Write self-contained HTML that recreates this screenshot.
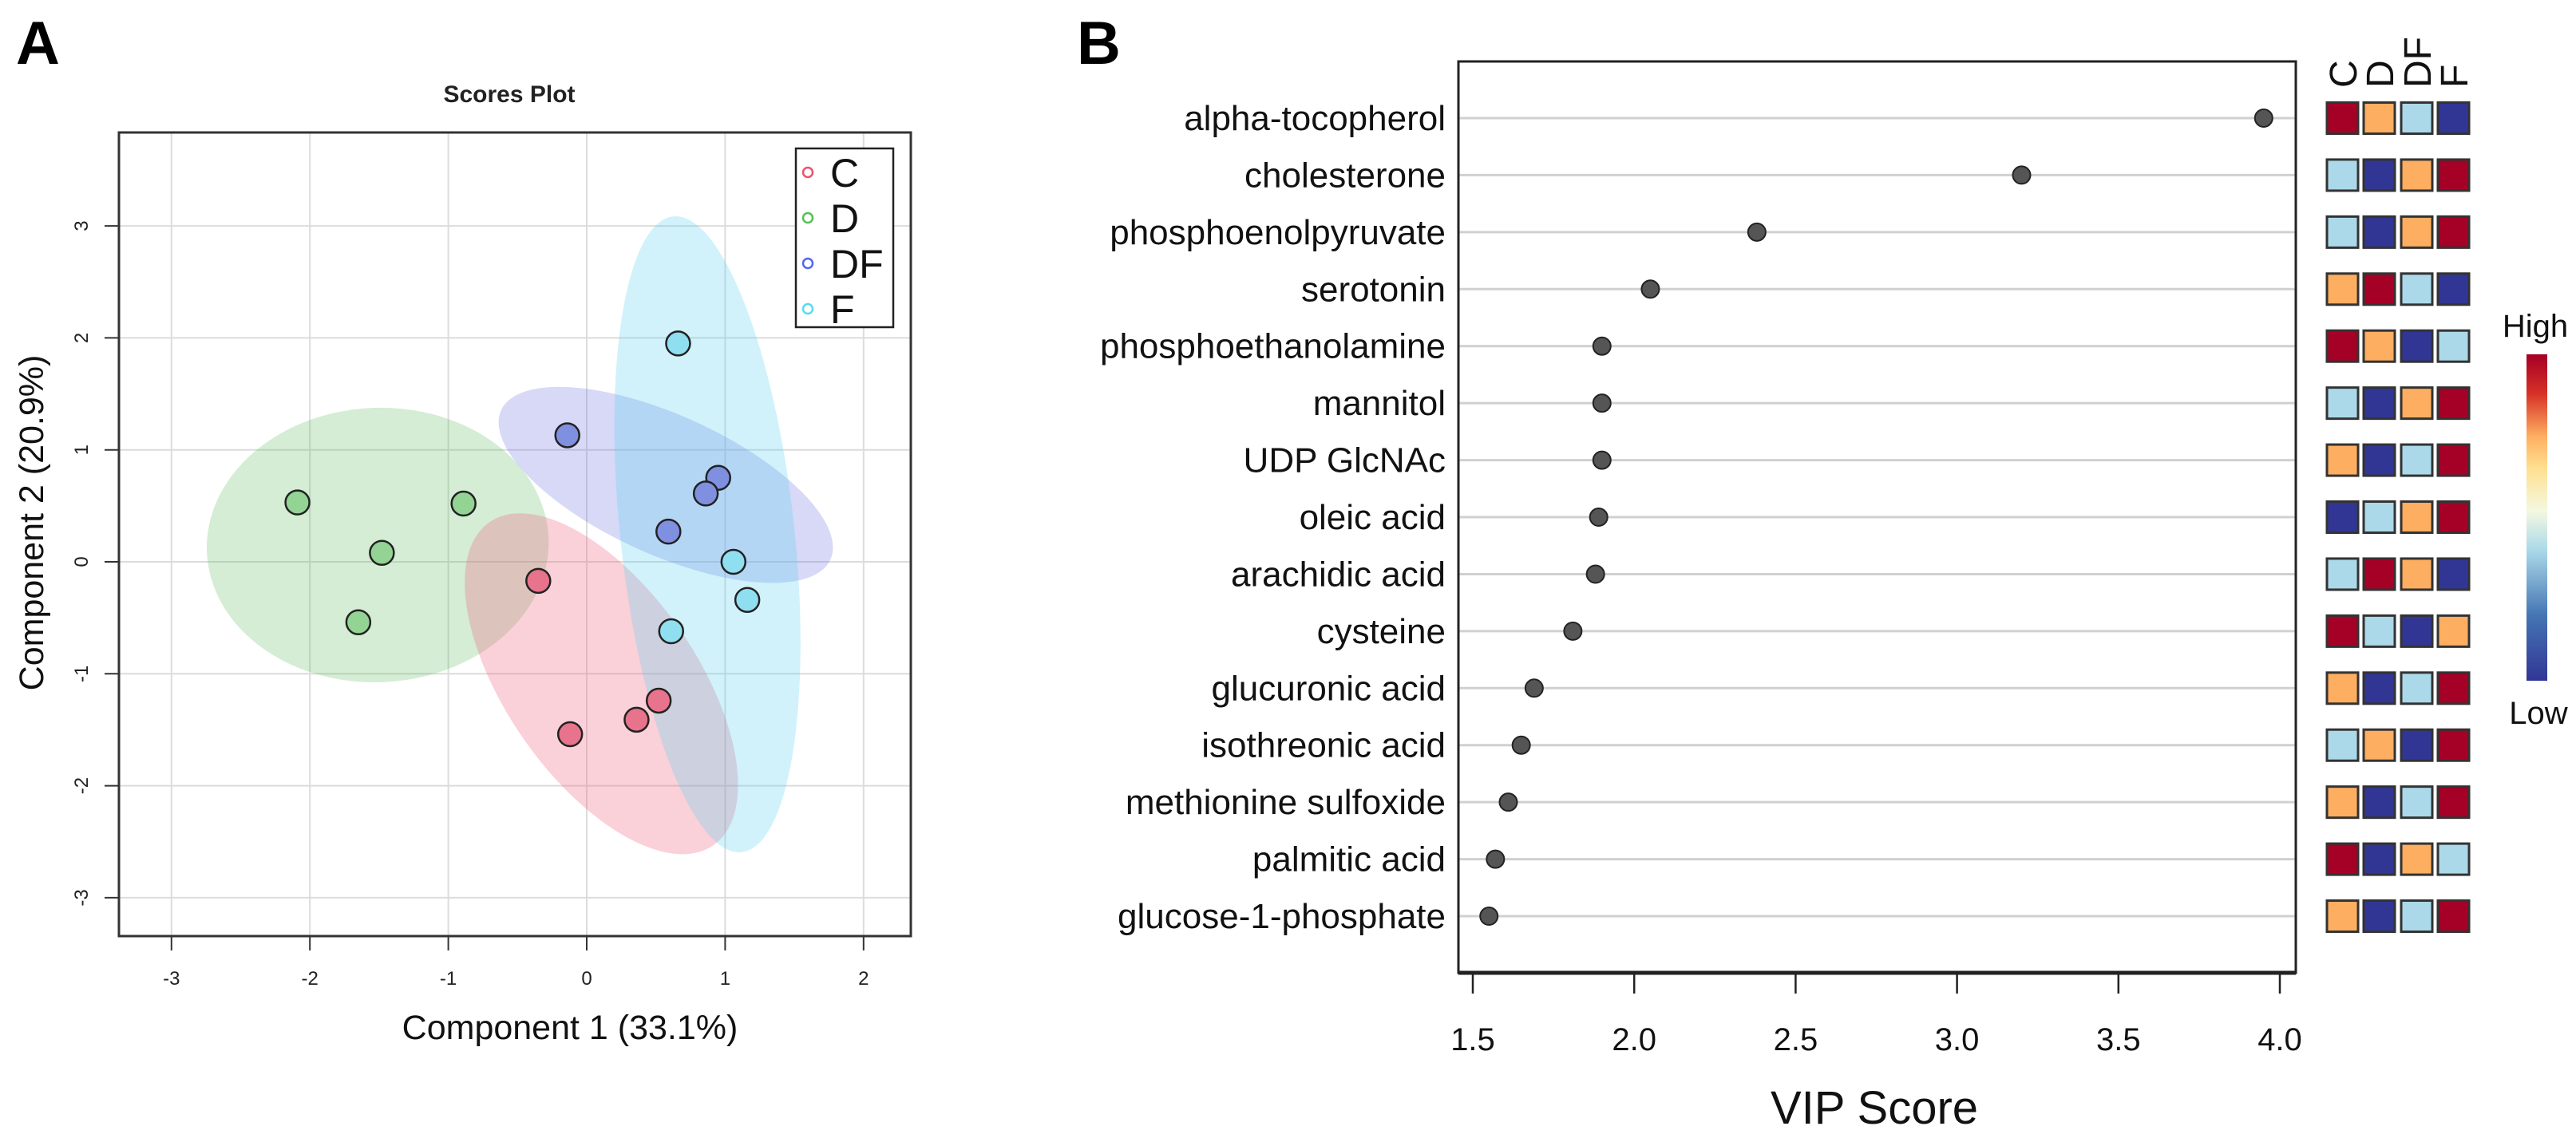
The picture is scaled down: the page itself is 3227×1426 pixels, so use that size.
<!DOCTYPE html>
<html><head><meta charset="utf-8"><style>
html,body{margin:0;padding:0;background:#fff;}
svg{display:block;font-family:"Liberation Sans",Arial,sans-serif;}
</style></head><body>
<svg id="fig" width="3227" height="1426" viewBox="0 0 3227 1426" xmlns="http://www.w3.org/2000/svg">
<defs>
<linearGradient id="cbar" x1="0" y1="1" x2="0" y2="0">
<stop offset="0" stop-color="#313695"/><stop offset="0.2" stop-color="#4575b4"/><stop offset="0.4" stop-color="#abd9e9"/><stop offset="0.52" stop-color="#f4f8e0"/><stop offset="0.65" stop-color="#fee090"/><stop offset="0.75" stop-color="#fdae61"/><stop offset="0.88" stop-color="#d73027"/><stop offset="1" stop-color="#a50026"/>
</linearGradient>
</defs>
<g id="panelA"></g>
<g id="panelB"></g>
</svg>
<script>
// ---------- Panel A data ----------
const groupNames = ["C","D","DF","F"];
const xTicksA = [-3,-2,-1,0,1,2];
const yTicksA = [-3,-2,-1,0,1,2,3];
const cX = [-0.35,-0.12,0.36,0.52];
const cY = [-0.17,-1.54,-1.41,-1.24];
const dX = [-2.09,-0.89,-1.48,-1.65];
const dY = [0.53,0.52,0.08,-0.54];
const dfX = [-0.14,0.95,0.86,0.59];
const dfY = [1.13,0.75,0.61,0.27];
const fX = [0.66,1.06,1.16,0.61];
const fY = [1.95,0.00,-0.34,-0.62];
const ellCenterX = [0.106,-1.51,0.571,0.872];
const ellCenterY = [-1.089,0.15,0.687,0.246];

// ---------- Panel B data ----------
const metabolites = ["alpha-tocopherol","cholesterone","phosphoenolpyruvate","serotonin","phosphoethanolamine","mannitol","UDP GlcNAc","oleic acid","arachidic acid","cysteine","glucuronic acid","isothreonic acid","methionine sulfoxide","palmitic acid","glucose-1-phosphate"];
const vipScores = [3.95,3.20,2.38,2.05,1.90,1.90,1.90,1.89,1.88,1.81,1.69,1.65,1.61,1.57,1.55];
const xTicksB = [1.5,2.0,2.5,3.0,3.5,4.0];
const heatLevels = [ // 0 low(navy) 1 lightblue 2 orange 3 high(red); columns C,D,DF,F
 [3,2,1,0],[1,0,2,3],[1,0,2,3],[2,3,1,0],[3,2,0,1],[1,0,2,3],[2,0,1,3],[0,1,2,3],[1,3,2,0],[3,1,0,2],[2,0,1,3],[1,2,0,3],[2,0,1,3],[3,0,2,1],[2,0,1,3]];

const NS="http://www.w3.org/2000/svg";
function mk(tag,attrs,parent,text){const e=document.createElementNS(NS,tag);for(const k in attrs)e.setAttribute(k,attrs[k]);if(text!==undefined)e.textContent=text;parent.appendChild(e);return e;}

// ===== Panel A =====
const A=document.getElementById('panelA');
const ax=v=>735+v*173.4, ay=v=>704-v*140.3;
const boxA={x0:149,x1:1141,y0:166,y1:1173};
let t=mk('text',{x:20,y:80,'font-size':76,'font-weight':'bold'},A,'A');


t=mk('text',{x:638,y:128,'font-size':30,'font-weight':'bold','text-anchor':'middle',fill:'#222'},A,'Scores Plot');


xTicksA.forEach(v=>{
 const g=mk('line',{x1:ax(v),x2:ax(v),y1:boxA.y0,y2:boxA.y1,stroke:'#dcdcdc','stroke-width':2},A);
 
 
 mk('line',{x1:ax(v),x2:ax(v),y1:boxA.y1,y2:boxA.y1+18,stroke:'#333','stroke-width':2},A);
 const l=mk('text',{x:ax(v),y:1234,'font-size':24,'text-anchor':'middle',fill:'#222'},A,String(v));
 
 
});
yTicksA.forEach(v=>{
 const g=mk('line',{x1:boxA.x0,x2:boxA.x1,y1:ay(v),y2:ay(v),stroke:'#dcdcdc','stroke-width':2},A);
 
 
 mk('line',{x1:boxA.x0-18,x2:boxA.x0,y1:ay(v),y2:ay(v),stroke:'#333','stroke-width':2},A);
 const l=mk('text',{x:0,y:0,'font-size':24,'text-anchor':'middle',fill:'#222',transform:`translate(110,${ay(v)}) rotate(-90)`},A,String(v));
 
 
});
// ellipses (radii in zoom-space px, transformed)
const ellFill=['rgba(240,100,130,0.30)','rgba(100,190,100,0.28)','rgba(110,120,225,0.28)','rgba(90,210,240,0.28)'];
const ellShape=[[262,121,60],[210,189,-5],[227,94,28],[440,107,84.6]];
const ellNames=['ellipse-c','ellipse-d','ellipse-df','ellipse-f'];
[1,0,2,3].forEach(i=>{
 const e=mk('ellipse',{cx:0,cy:0,rx:ellShape[i][0],ry:ellShape[i][1],fill:ellFill[i],
  transform:`translate(${ax(ellCenterX[i])},${ay(ellCenterY[i])}) scale(1.0204,0.9094) rotate(${ellShape[i][2]})`},A);
 
 
});
const ptFill=['#e8738c','#93d393','#8090e0','#8fdff0'];
const series=[[cX,cY],[dX,dY],[dfX,dfY],[fX,fY]];
series.forEach((s,i)=>{
 s[0].forEach((xv,j)=>{
  const c=mk('circle',{cx:ax(xv),cy:ay(s[1][j]),r:15,fill:ptFill[i],stroke:'#222','stroke-width':2.5},A);
  
  
 });
});
let bx=mk('rect',{x:boxA.x0,y:boxA.y0,width:boxA.x1-boxA.x0,height:boxA.y1-boxA.y0,fill:'none',stroke:'#333','stroke-width':3},A);


// legend
const lg=mk('g',{},A);


mk('rect',{x:997,y:186,width:122,height:224,fill:'#fff',stroke:'#222','stroke-width':2.5},lg);
const legCol=['#f0506e','#55c055','#5566ee','#55ddee'];
groupNames.forEach((n,i)=>{
 const y=216+i*57;
 const gi=mk('g',{},lg);
 
 
 mk('circle',{cx:1012,cy:y,r:6,fill:'none',stroke:legCol[i],'stroke-width':2.5},gi);
 mk('text',{x:1040,y:y+18,'font-size':50,fill:'#111'},gi,n);
});
t=mk('text',{x:714,y:1302,'font-size':43,'text-anchor':'middle',fill:'#111'},A,'Component 1 (33.1%)');


t=mk('text',{x:0,y:0,'font-size':43,'text-anchor':'middle',fill:'#111',transform:'translate(54,655) rotate(-90)'},A,'Component 2 (20.9%)');



// ===== Panel B =====
const B=document.getElementById('panelB');
const bxs=v=>1845+(v-1.5)*404.4, rowY=i=>148+i*71.43;
t=mk('text',{x:1349,y:80,'font-size':76,'font-weight':'bold'},B,'B');


metabolites.forEach((m,i)=>{
 const y=rowY(i);
 const g=mk('line',{x1:1827,x2:2876,y1:y,y2:y,stroke:'#d0d0d0','stroke-width':3},B);
 
 
 const l=mk('text',{x:1811,y:y+15,'font-size':44,'text-anchor':'end',fill:'#111'},B,m);
 
 
 const d=mk('circle',{cx:bxs(vipScores[i]),cy:y,r:11,fill:'#555',stroke:'#222','stroke-width':2},B);
 
 
});
bx=mk('rect',{x:1827,y:77,width:1049,height:1142,fill:'none',stroke:'#222','stroke-width':3},B);


mk('line',{x1:1827,x2:2876,y1:1219,y2:1219,stroke:'#222','stroke-width':5},B);
xTicksB.forEach(v=>{
 mk('line',{x1:bxs(v),x2:bxs(v),y1:1219,y2:1245,stroke:'#222','stroke-width':2.5},B);
 const l=mk('text',{x:bxs(v),y:1316,'font-size':40,'text-anchor':'middle',fill:'#111'},B,v.toFixed(1));
 
 
});
t=mk('text',{x:2348,y:1408,'font-size':58,'text-anchor':'middle',fill:'#111'},B,'VIP Score');


// heatmap
const heatCol=['#313695','#abd9e9','#fdae61','#a50026'];
const colX=[2915,2961,3008,3054];
groupNames.forEach((n,j)=>{
 const l=mk('text',{x:0,y:0,'font-size':48,fill:'#111',transform:`translate(${colX[j]+37},110) rotate(-90)`},B,n);
 
 
});
heatLevels.forEach((row,i)=>{
 row.forEach((lv,j)=>{
  const r=mk('rect',{x:colX[j],y:rowY(i)-19.5,width:39,height:39,fill:heatCol[lv],stroke:'#333','stroke-width':3},B);
  
  
 });
});
const cb=mk('rect',{x:3165,y:444,width:26,height:409,fill:'url(#cbar)'},B);


t=mk('text',{x:3176,y:422,'font-size':40,'text-anchor':'middle',fill:'#111'},B,'High');


t=mk('text',{x:3180,y:907,'font-size':40,'text-anchor':'middle',fill:'#111'},B,'Low');


</script>
</body></html>
